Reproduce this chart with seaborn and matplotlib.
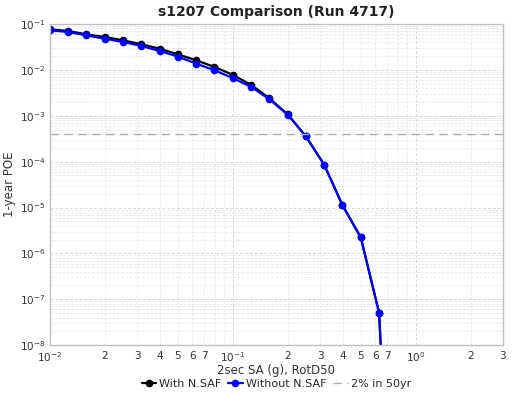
"""
s1207 危险曲线对比图（With / Without N.SAF）
"""

import numpy as np
import pandas as pd
import matplotlib
matplotlib.use('Agg')
import matplotlib.pyplot as plt
import matplotlib.ticker as mticker
import seaborn as sns

# 数据
sa = [0.01, 0.0126, 0.0158, 0.02, 0.0251, 0.0316, 0.0398, 0.0501, 0.0631, 0.0794,
      0.1, 0.126, 0.158, 0.2, 0.251, 0.316, 0.398, 0.501, 0.631, 0.794]
poe_with = [0.0767, 0.0705, 0.0597, 0.0521, 0.0442, 0.0362, 0.0290, 0.0219, 0.0162, 0.0116,
            0.00778, 0.00472, 0.00243, 0.00107, 3.55e-4, 8.6e-5, 1.12e-5, 2.23e-6, 5.05e-8, 5e-16]
poe_without = [0.0729, 0.0670, 0.0568, 0.0478, 0.0406, 0.0333, 0.0259, 0.0195, 0.0137, 0.00984,
               0.00661, 0.00427, 0.00231, 0.00105, 3.55e-4, 8.6e-5, 1.12e-5, 2.23e-6, 5.05e-8, 5e-16]
poe_2in50 = 4.0e-4

sns.set_style('white')
plt.rcParams['font.family'] = ['DejaVu Sans']
plt.rcParams['axes.unicode_minus'] = False

df = pd.DataFrame({'sa': sa, 'with': poe_with, 'without': poe_without})

fig = plt.figure(figsize=(5.25, 3.94), dpi=100)
ax = fig.add_axes([0.095, 0.124, 0.863, 0.815])
ax.set_xscale('log')
ax.set_yscale('log')

sns.lineplot(data=df, x='sa', y='with', ax=ax, color='black', marker='o',
             markersize=5.5, markeredgewidth=0, linewidth=1.6, sort=False,
             label='With N.SAF')
sns.lineplot(data=df, x='sa', y='without', ax=ax, color='#0000ff', marker='o',
             markersize=5.5, markeredgewidth=0, linewidth=1.6, sort=False,
             label='Without N.SAF')
ax.axhline(poe_2in50, color='#aaaaaa', linestyle=(0, (6, 4)), linewidth=1,
           label='2% in 50yr')

ax.set_xlim(0.01, 3)
ax.set_ylim(1e-8, 1e-1)

# 网格
ax.grid(True, which='major', color='#d8d8d8', linestyle=(0, (3, 2)), linewidth=0.7)
ax.grid(True, which='minor', color='#e6e6e6', linestyle=(0, (3, 2)), linewidth=0.6)
ax.set_axisbelow(True)


def dec_fmt(v, pos):
    e = int(round(np.log10(v)))
    return '$\\mathregular{10^{%d}}$' % e


def minor_fmt(v, pos):
    d = v / 10 ** np.floor(np.log10(v) + 1e-9)
    d = int(round(d))
    return str(d) if 2 <= d <= 7 else ''


# 刻度
ax.xaxis.set_major_locator(mticker.LogLocator(base=10, numticks=10))
ax.xaxis.set_minor_locator(mticker.LogLocator(base=10, subs=np.arange(2, 10), numticks=20))
ax.xaxis.set_major_formatter(mticker.FuncFormatter(dec_fmt))
ax.xaxis.set_minor_formatter(mticker.FuncFormatter(minor_fmt))
ax.yaxis.set_major_locator(mticker.LogLocator(base=10, numticks=12))
ax.yaxis.set_minor_locator(mticker.LogLocator(base=10, subs=np.arange(2, 10), numticks=20))
ax.yaxis.set_major_formatter(mticker.FuncFormatter(dec_fmt))
ax.yaxis.set_minor_formatter(mticker.NullFormatter())
ax.tick_params(which='both', length=0, labelsize=7.5, colors='#333333', pad=3)
ax.tick_params(axis='x', which='both', pad=4)

for sp in ax.spines.values():
    sp.set_color('#c0c0c0')
    sp.set_linewidth(1)

ax.set_xlabel('2sec SA (g), RotD50', fontsize=8.5, color='#333333', labelpad=0)
ax.set_ylabel('1-year POE', fontsize=8.5, color='#333333')
ax.yaxis.set_label_coords(-0.075, 0.5)
ax.set_title('s1207 Comparison (Run 4717)', fontsize=10, fontweight='bold',
             color='#222222', pad=6)

ax.legend(loc='upper center', bbox_to_anchor=(0.5, -0.075), ncol=3, frameon=False,
          fontsize=8, handlelength=1.3, columnspacing=0.6, handletextpad=0.3)

fig.savefig('out.png', dpi=100)
